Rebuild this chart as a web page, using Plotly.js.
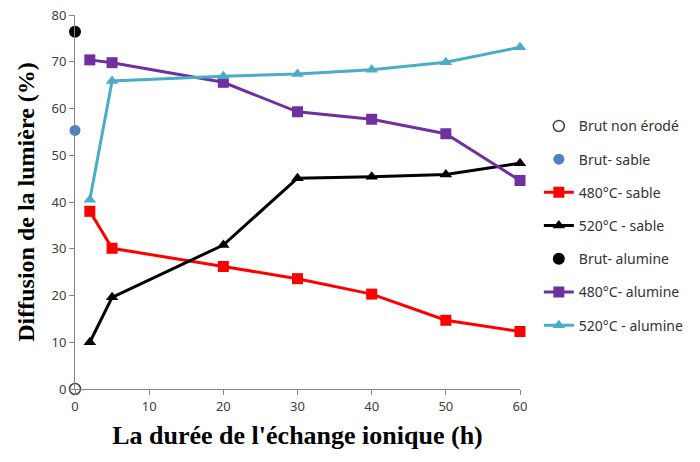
<!DOCTYPE html>
<html><head><meta charset="utf-8">
<script src="https://cdn.plot.ly/plotly-3.0.1.min.js"></script>
<style>html,body{margin:0;padding:0;background:#fff;}#chart{width:700px;height:462px;}</style>
</head><body><div id="chart"></div>
<script>
const hours = [2, 5, 20, 30, 40, 50, 60];
const brutNonErodeX = [0], brutNonErodeY = [0];
const brutSableX = [0], brutSableY = [55.3];
const brutAlumineX = [0], brutAlumineY = [76.4];
const sable480 = [38.0, 30.1, 26.2, 23.6, 20.3, 14.7, 12.3];
const sable520 = [10.0, 19.6, 30.8, 45.1, 45.4, 45.9, 48.3];
const alumine480 = [70.4, 69.8, 65.6, 59.3, 57.7, 54.6, 44.6];
const alumine520 = [40.5, 65.9, 66.9, 67.4, 68.3, 69.9, 73.1];
const names = ["Brut non érodé", "Brut- sable", "480°C- sable", "520°C - sable", "Brut- alumine", "480°C- alumine", "520°C - alumine"];

const traces = [
  {x: brutNonErodeX, y: brutNonErodeY, name: names[0], mode: 'markers', legendgroup:'a',
   marker: {symbol: 'circle-open', size: 11, color: '#404040', line: {width: 1.5}}, cliponaxis: false},
  {x: brutSableX, y: brutSableY, name: names[1], mode: 'markers', legendgroup:'b',
   marker: {symbol: 'circle', size: 11, color: '#4F81BD'}, cliponaxis: false},
  {x: hours, y: sable480, name: names[2], mode: 'lines+markers', legendgroup:'c',
   line: {color: '#FF0000', width: 3}, marker: {symbol: 'square', size: 11, color: '#FF0000'}, cliponaxis: false},
  {x: hours, y: sable520, name: names[3], mode: 'lines+markers', legendgroup:'d',
   line: {color: '#000000', width: 3}, marker: {symbol: 'triangle-up', size: 11, color: '#000000'}, cliponaxis: false},
  {x: brutAlumineX, y: brutAlumineY, name: names[4], mode: 'markers', legendgroup:'e',
   marker: {symbol: 'circle', size: 12, color: '#000000'}, cliponaxis: false},
  {x: hours, y: alumine480, name: names[5], mode: 'lines+markers', legendgroup:'f',
   line: {color: '#7030A0', width: 3}, marker: {symbol: 'square', size: 11, color: '#7030A0'}, cliponaxis: false},
  {x: hours, y: alumine520, name: names[6], mode: 'lines+markers', legendgroup:'g',
   line: {color: '#4BACC6', width: 3}, marker: {symbol: 'triangle-up', size: 11, color: '#4BACC6'}, cliponaxis: false}
];

const layout = {
  width: 700, height: 462,
  margin: {l: 75, r: 179, t: 15, b: 73},
  paper_bgcolor: '#fff', plot_bgcolor: '#fff',
  font: {family: 'Noto Sans, Open Sans, sans-serif', size: 13, color: '#404040'},
  xaxis: {
    range: [0, 60], tickvals: [0,10,20,30,40,50,60], showgrid: false, zeroline: false,
    showline: true, linecolor: '#868686', linewidth: 1, ticks: 'outside', ticklen: 5, tickcolor: '#868686',
    tickfont: {size: 13, color: '#404040'},
    title: {text: "La durée de l'échange ionique (h)", font: {family: 'Liberation Serif, serif', size: 26, color: '#000', weight: 'bold'}, standoff: 12}
  },
  yaxis: {
    range: [0, 80], tickvals: [0,10,20,30,40,50,60,70,80], showgrid: false, zeroline: false,
    showline: true, linecolor: '#868686', linewidth: 1, ticks: 'outside', ticklen: 5, tickcolor: '#868686',
    tickfont: {size: 13, color: '#404040'},
    title: {text: 'Diffusion de la lumière (%)', font: {family: 'Liberation Serif, serif', size: 24, color: '#000', weight: 'bold'}, standoff: 10}
  },
  legend: {x: 1.04, xanchor: 'left', y: 0.745, yanchor: 'top', traceorder: 'grouped', tracegroupgap: 12,
    font: {size: 14, color: '#333'}, bgcolor: 'rgba(0,0,0,0)'},
  showlegend: true
};
Plotly.newPlot('chart', traces, layout, {displayModeBar: false, staticPlot: true});
</script></body></html>
